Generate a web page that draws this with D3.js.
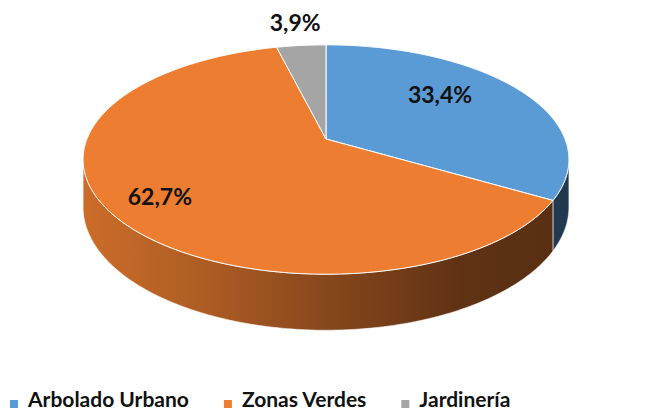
<!DOCTYPE html>
<html>
<head>
<meta charset="utf-8">
<script src="https://cdn.jsdelivr.net/npm/d3@7"></script>
<style>
  body { margin: 0; background: #fff; }
  text { font-family: Lato, "Open Sans", sans-serif; font-weight: bold; }
</style>
</head>
<body>
<div id="chart"></div>
<script>
    const categories = ["Arbolado Urbano", "Zonas Verdes", "Jardinería"];
    const shares = [33.4, 62.7, 3.9];
    const shareLabels = ["33,4%", "62,7%", "3,9%"];
    const colors = ["#5b9bd5", "#ed7d31", "#a5a5a5"];

    const width = 660, height = 412;

    // tilted pie, drawn with a simple perspective
    const cx = 326, cy = 139;   // centre of the top face
    const A = 239, B = 111;     // half axes
    const K = 0.179;            // perspective strength (front looks bigger)
    const depth = 46;           // thickness of the pie

    function project(theta, r, drop) {
      const u = r * Math.sin(theta), v = -r * Math.cos(theta);
      const w = 1 - K * v;
      return [cx + A * u / w, cy + (B * v + (drop || 0)) / w];
    }

    function arcPoints(a0, a1, r, drop) {
      const n = Math.max(2, Math.ceil(Math.abs(a1 - a0) / 0.01));
      return d3.range(n + 1).map(i => project(a0 + (a1 - a0) * i / n, r, drop));
    }

    const svg = d3.select("#chart")
      .append("svg")
        .attr("width", width)
        .attr("height", height);

    svg.append("rect").attr("width", width).attr("height", height).attr("fill", "#fff");

    const arcs = d3.pie().sort(null).value(d => d)(shares);
    const line = d3.line();

    // side shading, light on the left, dark on the right
    const maxX = A / Math.sqrt(1 - K * K);
    const shade = [[0, 0.86], [0.24, 0.74], [0.5, 0.57], [0.7, 0.45], [0.78, 0.4], [1, 0.37]];
    const defs = svg.append("defs");
    colors.forEach((c, i) => {
      const g = defs.append("linearGradient")
        .attr("id", "side" + i)
        .attr("gradientUnits", "userSpaceOnUse")
        .attr("x1", cx - maxX).attr("x2", cx + maxX)
        .attr("y1", 0).attr("y2", 0);
      const base = d3.rgb(c);
      shade.forEach(([o, f]) => {
        g.append("stop")
          .attr("offset", o)
          .attr("stop-color", d3.rgb(base.r * f, base.g * f, base.b * f).formatHex());
      });
    });

    // visible part of the side wall
    const visFrom = Math.acos(-K), visTo = 2 * Math.PI - Math.acos(-K);
    arcs.forEach((a, i) => {
      const s = Math.max(a.startAngle, visFrom), e = Math.min(a.endAngle, visTo);
      if (s >= e) return;
      const pts = arcPoints(s, e, 1, 0).concat(arcPoints(e, s, 1, depth));
      svg.append("path")
        .attr("d", line(pts) + "Z")
        .attr("fill", `url(#side${i})`)
        .attr("stroke", "#fff")
        .attr("stroke-opacity", 0.7)
        .attr("stroke-width", 0.8);
    });

    // top face
    arcs.forEach((a, i) => {
      const pts = [project(0, 0)].concat(arcPoints(a.startAngle, a.endAngle, 1, 0));
      svg.append("path")
        .attr("d", line(pts) + "Z")
        .attr("fill", colors[i])
        .attr("stroke", "#fff")
        .attr("stroke-width", 1);
    });

    // data labels
    const labelSpots = [{ r: 0.67, turn: -0.175 }, { r: 0.795, turn: 0 }, { r: 1.3, turn: 0 }];
    arcs.forEach((a, i) => {
      const mid = (a.startAngle + a.endAngle) / 2 + labelSpots[i].turn;
      const p = project(mid, labelSpots[i].r, 0);
      svg.append("text")
        .attr("x", p[0])
        .attr("y", p[1])
        .attr("dy", "0.35em")
        .attr("text-anchor", "middle")
        .style("font-size", "23px")
        .style("fill", "#111")
        .text(shareLabels[i]);
    });

    // legend
    const legend = svg.append("g");
    let lx = 10;
    categories.forEach((c, i) => {
      legend.append("rect")
        .attr("x", lx).attr("y", 400)
        .attr("width", 8).attr("height", 8)
        .attr("fill", colors[i]);
      const t = legend.append("text")
        .attr("x", lx + 18)
        .attr("y", 407)
        .style("font-size", "21px")
        .style("fill", "#111")
        .text(c);
      lx += 18 + t.node().getComputedTextLength() + 35;
    });
</script>
</body>
</html>
